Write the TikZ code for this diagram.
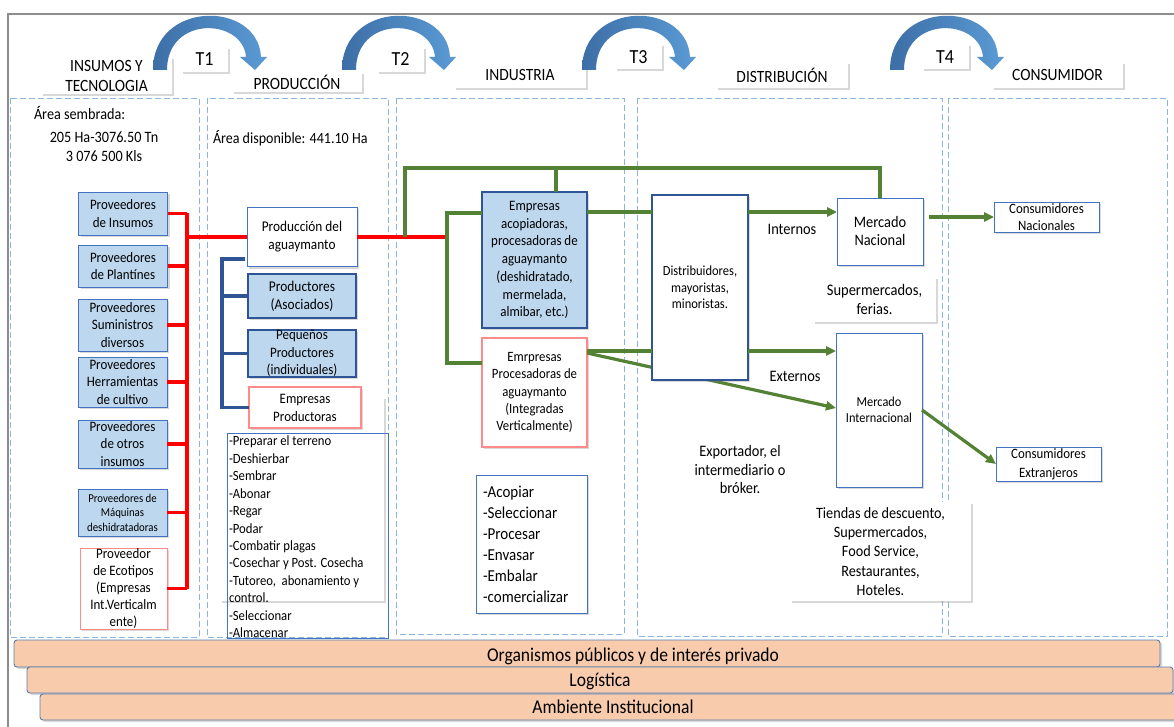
\documentclass[tikz,border=0pt]{standalone}
\usepackage{fontspec}
\setmainfont[FakeStretch=0.9]{Carlito}
\usetikzlibrary{shadows,arrows.meta}
\definecolor{lbl}{HTML}{BDD7EE}
\definecolor{bxb}{HTML}{4472C4}
\definecolor{dkb}{HTML}{2F5597}
\definecolor{pnk}{HTML}{FF8A8A}
\definecolor{cgrn}{HTML}{548235}
\definecolor{dashb}{HTML}{8DB4E2}
\definecolor{peach}{HTML}{F8CBAD}
\definecolor{barb}{HTML}{5A7DA6}
\definecolor{arrL}{HTML}{3D6EA6}
\definecolor{arrR}{HTML}{5B9BD5}
\definecolor{frm}{HTML}{8C8C8C}
\tikzset{tarrow/.pic={\shade[left color=arrL,right color=arrR] (0,0) .. controls (0,-70) and (105,-70) .. (108,-13) -- (114,-13) -- (102,0) -- (87,-13) -- (93,-13) .. controls (90,-52) and (14,-55) .. (14,0) -- cycle;}}
\newcommand{\fs}[2]{\fontsize{#1}{#2}\selectfont}
\begin{document}
\begin{tikzpicture}[x=1pt,y=-1pt,
  every node/.style={inner sep=0pt,outer sep=0pt,align=center},
  shd/.style={drop shadow={opacity=0.3,shadow xshift=2pt,shadow yshift=-2pt}},
  hdr/.style={fill=white,shd,font=\fs{17.2}{20}},
  tlab/.style={fill=white,shd,font=\fs{20}{21},minimum width=47pt,minimum height=25pt},
  col/.style={draw=dashb,dash pattern=on 6pt off 3pt,line width=0.8pt},
  sup/.style={fill=lbl,draw=bxb,line width=0.9pt,shd,font=\fs{14.4}{17.5},minimum width=89pt},
  thinbox/.style={fill=white,draw=bxb,line width=0.9pt,shd},
  thickb/.style={fill=lbl,draw=dkb,line width=2.5pt,shd},
  thickp/.style={fill=white,draw=pnk,line width=2.5pt,shd},
  plain/.style={fill=white,shd},
  rline/.style={draw=red,line width=3.5pt},
  bline/.style={draw=dkb,line width=3.5pt},
  gline/.style={draw=cgrn,line width=3.2pt},
  garr/.style={gline,-{Triangle[length=10pt,width=9pt]}},
  bar/.style={fill=peach,draw=barb,line width=0.9pt,rounded corners=3pt,shd},
  t16/.style={font=\fs{16}{18.5}},
  barT/.style={font=\fs{19.5}{20}}
]
\useasboundingbox (0,0) rectangle (1174,727);
\fill[white] (0,0) rectangle (1174,727);
\draw[frm,line width=2pt] (8,730) -- (8,14) -- (1180,14);

% columns
\draw[col] (10,98) rectangle (199,637);
\draw[col] (207,98) rectangle (388,637);
\draw[col] (396,98) rectangle (624,634);
\draw[col] (637,98) rectangle (942,636);
\draw[col] (948,98) rectangle (1167,636);

% headers
\node[hdr,minimum width=131pt,minimum height=37pt] (hIns) at (106.5,75.5) {INSUMOS Y\\TECNOLOGIA};
\node[tlab] (hT1) at (204.5,59.5) {T1};
\node[hdr,minimum width=130pt,minimum height=20pt] (hProd) at (297,82) {PRODUCCIÓN};
\node[tlab] (hT2) at (400.5,59.5) {T2};
\node[hdr,minimum width=132pt,minimum height=26pt] (hInd) at (520,75) {INDUSTRIA};
\node[tlab] (hT3) at (638.5,57) {T3};
\node[hdr,minimum width=132pt,minimum height=26pt] (hDist) at (782,75) {DISTRIBUCIÓN};
\node[tlab] (hT4) at (945,57) {T4};
\node[hdr,minimum width=131pt,minimum height=26pt] (hCons) at (1057.5,75) {CONSUMIDOR};

% curved arrows
\pic at (153,70) {tarrow};
\pic at (342,70) {tarrow};
\pic at (582,70) {tarrow};
\pic at (890,70) {tarrow};

% column texts
\node[anchor=west,font=\fs{15.8}{18}] (aS) at (34,113) {Área sembrada:};
\node[font=\fs{15.8}{18}] (aS2) at (104,137) {205 Ha-3076.50 Tn};
\node[font=\fs{15.8}{18}] (aS3) at (104,156) {3 076 500 Kls};
\node[anchor=west,font=\fs{15.6}{18}] (aD) at (213,138) {Área disponible: 441.10 Ha};

% suppliers
\node[sup,minimum height=43pt] (s1) at (123,213.5) {Proveedores\\de Insumos};
\node[sup,minimum height=42pt] (s2) at (123,266) {Proveedores\\de Plantínes};
\node[sup,minimum height=52pt] (s3) at (122.5,325) {Proveedores\\Suministros\\diversos};
\node[sup,minimum height=50pt] (s4) at (122.5,382) {Proveedores\\Herramientas\\de cultivo};
\node[sup,minimum height=48pt] (s5) at (122.5,444) {Proveedores\\de otros\\insumos};
\node[sup,minimum height=47pt,font=\fs{12}{14.5}] (s6) at (122.5,512.5) {Proveedores de\\Máquinas\\deshidratadoras};
\node[fill=white,draw=pnk,line width=0.9pt,shd,minimum width=87pt,minimum height=81pt,font=\fs{14.4}{17.2}] (s7) at (123.5,588.5) {Proveedor\\de Ecotipos\\(Empresas\\Int.Verticalm\\ente)};

% red bus
\coordinate (rbus) at (187,237);
\foreach \s in {s1,s2,s3,s4,s5,s6,s7} {\draw[rline] (\s.east) -- (\s.east -| rbus);}
\draw[rline] (rbus |- s1.east) -- (rbus |- s7.east);

% production
\node[thinbox,minimum width=110pt,minimum height=59pt,font=\fs{14.8}{18}] (prod) at (302,237) {Producción del\\aguaymanto};
\coordinate (gA) at (447,237);
\draw[rline] (rbus) -- (prod.west);
\draw[rline] (prod.east) -- (gA);

\node[thickb,minimum width=108pt,minimum height=44pt,font=\fs{14.9}{18}] (pAso) at (302,296) {Productores\\(Asociados)};
\node[thickb,minimum width=108pt,minimum height=47pt,font=\fs{14.4}{17.5}] (pPeq) at (302,353.5) {Pequeños\\Productores\\(individuales)};
\node[plain,minimum width=164pt,minimum height=204pt] (pShd) at (302,499) {};
\node[thickp,minimum width=112pt,minimum height=41pt,font=\fs{14.4}{18}] (pEmp) at (305,407.5) {Empresas\\Productoras};
\coordinate (bb) at (222,259);
\draw[bline] (245,259) -- (bb) -- (bb |- pEmp.west) -- (pEmp.west);
\draw[bline] (bb |- pAso.west) -- (pAso.west);
\draw[bline] (bb |- pPeq.west) -- (pPeq.west);

\draw[bxb,line width=0.9pt] (227,433) rectangle (388,638);
\node[anchor=north west,align=left,font=\fs{14.1}{17.45}] (pList) at (229,436) {-Preparar el terreno\\-Deshierbar\\-Sembrar\\-Abonar\\-Regar\\-Podar\\-Combatir plagas\\-Cosechar y Post. Cosecha\\-Tutoreo,\ \ abonamiento y\\control.\\-Seleccionar\\-Almacenar};

% industry
\node[thickb,minimum width=105pt,minimum height=136pt,font=\fs{14.4}{17.7}] (eAco) at (534.5,260) {Empresas\\acopiadoras,\\procesadoras de\\aguaymanto\\(deshidratado,\\mermelada,\\almibar, etc.)};
\node[thickp,minimum width=105pt,minimum height=109pt,font=\fs{14.2}{17.4}] (eProc) at (534.5,392.5) {Emrpresas\\Procesadoras de\\aguaymanto\\(Integradas\\Verticalmente)};
\node[thinbox,minimum width=111pt,minimum height=138pt] (iBox) at (531.5,544) {};
\node[anchor=north west,align=left,font=\fs{16.7}{21}] (iList) at (483,486) {-Acopiar\\-Seleccionar\\-Procesar\\-Envasar\\-Embalar\\-comercializar};

% markets
\node[thinbox,minimum width=86pt,minimum height=67pt,font=\fs{16}{18}] (mNac) at (880,231.5) {Mercado\\Nacional};
\node[thinbox,minimum width=86pt,minimum height=154pt,font=\fs{13.7}{16}] (mInt) at (879,410) {Mercado\\Internacional};
\node[thinbox,minimum width=105pt,minimum height=30pt,font=\fs{14.3}{17.5}] (cNac) at (1046.5,217) {Consumidores\\Nacionales};
\node[thinbox,minimum width=105pt,minimum height=34pt,font=\fs{14.3}{19}] (cExt) at (1048.5,464) {Consumidores\\Extranjeros};
\node[plain,minimum width=123pt,minimum height=45pt,font=\fs{16.1}{19}] (supF) at (874.5,299.5) {Supermercados,\\ferias.};
\node[plain,minimum width=181pt,minimum height=99pt,font=\fs{15.8}{19.3}] (tnd) at (880.5,551.5) {Tiendas de descuento,\\Supermercados,\\Food Service,\\Restaurantes,\\Hoteles.};
\node[t16] (lInt) at (792,229) {Internos};
\node[t16] (lExt) at (795,376) {Externos};
\node[t16] (lExp) at (740,470) {Exportador, el\\intermediario o\\bróker.};

% green connectors
\coordinate (gT) at (405,168);
\coordinate (gT2) at (556,168);
\draw[gline] (405,237) -- (gT) -- (gT -| mNac.north) -- (mNac.north);
\draw[gline] (gT2) -- (gT2 |- eAco.north);
\coordinate (gAt) at (447,213);
\coordinate (gAb) at (447,363);
\draw[gline] (gAt -| eAco.west) -- (gAt) -- (gAb) -- (gAb -| eProc.west);
\coordinate (y1) at (0,212);
\coordinate (y2) at (0,351);
\draw[garr] (eProc.east |- 0,353) -- (mInt.west |- 0,408);
\node[fill=white,draw=dkb,line width=2.5pt,shd,minimum width=96pt,minimum height=185pt,font=\fs{13.9}{16.5}] (dist) at (700,287.5) {Distribuidores,\\mayoristas,\\minoristas.};
\draw[gline] (eAco.east |- y1) -- (dist.west |- y1);
\draw[garr] (dist.east |- y1) -- (mNac.west |- y1);
\draw[gline] (eProc.east |- y2) -- (dist.west |- y2);
\draw[garr] (dist.east |- y2) -- (mInt.west |- y2);
\coordinate (mNacE) at ([xshift=6pt]mNac.east);
\draw[garr] (mNacE |- cNac.west) -- (cNac.west);
\draw[garr] (mInt.east) -- (cExt.west);

% bottom bars
\node[bar,minimum width=1146pt,minimum height=27pt] (b1) at (587,653.5) {};
\node[barT] (b1t) at (633,656) {Organismos públicos y de interés privado};
\node[bar,minimum width=1146pt,minimum height=26pt] (b2) at (600,680) {};
\node[barT] (b2t) at (600,681) {Logística};
\node[bar,minimum width=1160pt,minimum height=26pt] (b3) at (620,707) {};
\node[barT] (b3t) at (613,707) {Ambiente Institucional};
\end{tikzpicture}
\end{document}
